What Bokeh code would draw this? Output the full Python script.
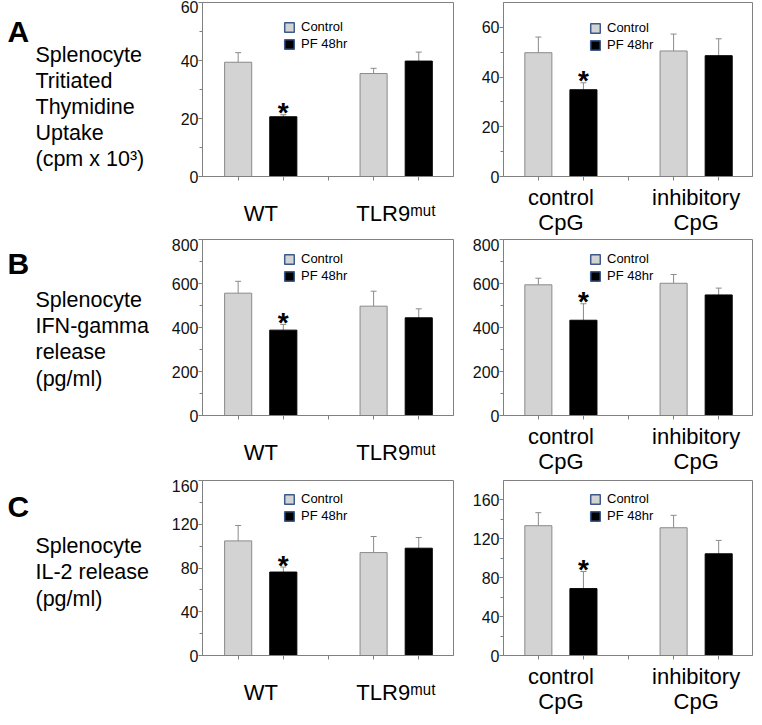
from bokeh.plotting import figure
from bokeh.layouts import column, row
from bokeh.models import (ColumnDataSource, Range1d, FixedTicker, Whisker, TeeHead,
                          Legend, LegendItem)
from bokeh.core.properties import value
from bokeh.embed import file_html
from bokeh.resources import INLINE

FONT = "Liberation Sans"

# ---------------- data ----------------
series_names = ["Control", "PF 48hr"]
left_groups = ["WT", "TLR9\u1d50\u1d58\u1d57"]          # TLR9 with superscript "mut"
right_groups = ["control\nCpG", "inhibitory\nCpG"]

panel_letters = ["A", "B", "C"]
row_titles = [
    ["Splenocyte", "Tritiated", "Thymidine", "Uptake", "(cpm x 10\u00b3)"],
    ["Splenocyte", "IFN-gamma", "release", "(pg/ml)"],
    ["Splenocyte", "IL-2 release", "(pg/ml)"],
]

# A: thymidine uptake
thy_left_control = [39.4, 35.5]
thy_left_control_sem = [3.3, 1.8]
thy_left_pf = [20.6, 39.8]
thy_left_pf_sem = [0.7, 3.1]
thy_right_control = [49.8, 50.5]
thy_right_control_sem = [6.3, 6.8]
thy_right_pf = [34.9, 48.6]
thy_right_pf_sem = [2.8, 6.8]

# B: IFN-gamma
ifn_left_control = [556, 497]
ifn_left_control_sem = [54, 68]
ifn_left_pf = [388, 444]
ifn_left_pf_sem = [26, 41]
ifn_right_control = [594, 601]
ifn_right_control_sem = [30, 40]
ifn_right_pf = [433, 548]
ifn_right_pf_sem = [75, 31]

# C: IL-2
il2_left_control = [104.8, 94.1]
il2_left_control_sem = [14.1, 14.7]
il2_left_pf = [76.3, 98.1]
il2_left_pf_sem = [4.6, 9.8]
il2_right_control = [133.5, 131.4]
il2_right_control_sem = [13.4, 12.8]
il2_right_pf = [68.8, 104.6]
il2_right_pf_sem = [17.6, 13.8]

# significance (asterisk) per group, PF bar
significant = [True, False]

# y axes
thy_left_ylim = 60
thy_right_ylim = 70
thy_ticks = [0, 20, 40, 60]
thy_minor = [10, 30, 50]
ifn_ylim = 800
ifn_ticks = [0, 200, 400, 600, 800]
ifn_minor = [100, 300, 500, 700]
il2_left_ylim = 160
il2_right_ylim = 180
il2_ticks = [0, 40, 80, 120, 160]
il2_minor = [20, 60, 100, 140]

# bar positions (control, PF) for each group
ctrl_x = [1, 4]
pf_x = [2, 5]
gap_x = [3]

CTRL_FILL = "#d3d3d3"
CTRL_LINE = "#8a8a8a"
PF_FILL = "#000000"
AXIS_GRAY = "#808080"
LEG_LINE = "#3b5b8c"
NAN = float("nan")


def panel(ctrl, ctrl_sem, pf, pf_sem, ylim, yticks, yminor, side, width, height,
          b_top, frame_h, b_left, b_right, legend_xy):
    if side == "left":
        xr = Range1d(0.21, 5.77)
    else:
        xr = Range1d(0.227, 5.75)
    p = figure(width=width, height=height, x_range=xr,
               y_range=Range1d(0, ylim), output_backend="svg", toolbar_location=None,
               min_border_top=b_top, min_border_left=b_left, min_border_right=b_right,
               min_border_bottom=height - b_top - frame_h)
    p.outline_line_color = AXIS_GRAY
    p.grid.visible = False

    # bars
    p.vbar(x=ctrl_x, top=ctrl, width=0.6, fill_color=CTRL_FILL, line_color=CTRL_LINE)
    p.vbar(x=pf_x, top=pf, width=0.6, fill_color=PF_FILL, line_color=PF_FILL)

    # error bars (upper only)
    xs = ctrl_x + pf_x
    means = ctrl + pf
    sems = ctrl_sem + pf_sem
    src = ColumnDataSource(dict(x=xs, lower=means,
                                upper=[m + s for m, s in zip(means, sems)]))
    w = Whisker(source=src, base="x", upper="upper", lower="lower",
                line_color=CTRL_LINE, line_width=1,
                upper_head=TeeHead(size=6, line_color=CTRL_LINE, line_width=1),
                lower_head=None)
    p.add_layout(w)

    # asterisks
    ax = [pf_x[i] for i in range(2) if significant[i]]
    ay = [pf[i] + pf_sem[i] for i in range(2) if significant[i]]
    p.text(x=ax, y=ay, text=["*"] * len(ax), text_font=value(FONT),
           text_font_style="bold", text_font_size="28px", text_align="center",
           text_baseline="alphabetic", y_offset=-2, text_color="black")

    # legend (swatches with their own outline colour)
    r1 = p.vbar(x=[NAN], top=[NAN], width=0.6, fill_color=CTRL_FILL,
                line_color=LEG_LINE, line_width=1.5)
    r2 = p.vbar(x=[NAN], top=[NAN], width=0.6, fill_color=PF_FILL,
                line_color=LEG_LINE, line_width=1.5)
    leg = Legend(items=[LegendItem(label=series_names[0], renderers=[r1]),
                        LegendItem(label=series_names[1], renderers=[r2])],
                 location=legend_xy, padding=0, margin=0, spacing=2,
                 glyph_width=12, glyph_height=12, label_standoff=6,
                 label_height=12, label_text_font=FONT, label_text_font_size="13px",
                 label_text_color="black",
                 border_line_alpha=0, background_fill_alpha=0)
    p.add_layout(leg)

    # y axis
    ya = p.yaxis[0]
    ya.ticker = FixedTicker(ticks=yticks, minor_ticks=yminor)
    ya.axis_line_color = AXIS_GRAY
    ya.major_tick_line_color = AXIS_GRAY
    ya.minor_tick_line_color = AXIS_GRAY
    ya.major_tick_in = 0
    ya.major_tick_out = 4
    ya.minor_tick_in = 0
    ya.minor_tick_out = 3
    ya.major_label_standoff = 0
    ya.major_label_text_font = FONT
    ya.major_label_text_font_size = "16px"
    ya.major_label_text_color = "#111111"

    # x axis: group names at group centres, small ticks at bars and gap
    centers = [(c + f) / 2 for c, f in zip(ctrl_x, pf_x)]
    names = left_groups if side == "left" else right_groups
    xa = p.xaxis[0]
    xa.ticker = FixedTicker(ticks=centers, minor_ticks=ctrl_x + pf_x + gap_x)
    xa.major_label_overrides = {c: n for c, n in zip(centers, names)}
    xa.axis_line_color = AXIS_GRAY
    xa.major_tick_line_color = None
    xa.major_tick_in = 0
    xa.major_tick_out = 0
    xa.minor_tick_line_color = AXIS_GRAY
    xa.minor_tick_in = 0
    xa.minor_tick_out = 4
    xa.major_label_text_font = FONT
    xa.major_label_text_font_size = "22px"
    xa.major_label_text_color = "black"
    xa.major_label_text_line_height = 1.02
    xa.major_label_standoff = 20 if side == "left" else 4
    return p


def text_panel(height, b_top, b_bottom, letter, letter_base, lines, first_base, step):
    # frame shares the row's top/bottom borders; y data == pixels from the figure top
    p = figure(width=149, height=height, x_range=Range1d(0, 149),
               y_range=Range1d(height - b_bottom, b_top), output_backend="svg",
               toolbar_location=None, min_border_left=0, min_border_right=0,
               min_border_top=b_top, min_border_bottom=b_bottom,
               x_axis_location=None, y_axis_location=None)
    p.outline_line_color = None
    p.grid.visible = False
    p.text(x=[7], y=[letter_base], text=[letter], text_font=value(FONT),
           text_font_style="bold", text_font_size="30px", text_baseline="alphabetic",
           text_color="black")
    p.text(x=[35] * len(lines), y=[first_base + i * step for i in range(len(lines))],
           text=lines, text_font=value(FONT), text_font_size="21.5px",
           text_baseline="alphabetic", text_color="black")
    return p


# row geometry: (height, top border, frame height)
ROW_A = (238, 2, 175)
ROW_B = (241, 1, 176)
ROW_C = (238, 1, 175)


def bottom(r):
    return r[0] - r[1] - r[2]


# Row A
tA = text_panel(ROW_A[0], ROW_A[1], bottom(ROW_A), panel_letters[0], 31.5,
                row_titles[0], 54.7, 26.3)
pA1 = panel(thy_left_control, thy_left_control_sem, thy_left_pf, thy_left_pf_sem,
            thy_left_ylim, thy_ticks, thy_minor, "left", 314, *ROW_A, 53, 10, (81, 125))
pA2 = panel(thy_right_control, thy_right_control_sem, thy_right_pf, thy_right_pf_sem,
            thy_right_ylim, thy_ticks, thy_minor, "right", 290, *ROW_A, 40, 1, (86, 124))
# Row B
tB = text_panel(ROW_B[0], ROW_B[1], bottom(ROW_B), panel_letters[1], 24.7,
                row_titles[1], 61, 26.4)
pB1 = panel(ifn_left_control, ifn_left_control_sem, ifn_left_pf, ifn_left_pf_sem,
            ifn_ylim, ifn_ticks, ifn_minor, "left", 314, *ROW_B, 53, 10, (81, 132))
pB2 = panel(ifn_right_control, ifn_right_control_sem, ifn_right_pf, ifn_right_pf_sem,
            ifn_ylim, ifn_ticks, ifn_minor, "right", 290, *ROW_B, 40, 1, (86, 132))
# Row C
tC = text_panel(ROW_C[0], ROW_C[1], bottom(ROW_C), panel_letters[2], 27,
                row_titles[2], 66.4, 26.4)
pC1 = panel(il2_left_control, il2_left_control_sem, il2_left_pf, il2_left_pf_sem,
            il2_left_ylim, il2_ticks, il2_minor, "left", 314, *ROW_C, 53, 10, (81, 132))
pC2 = panel(il2_right_control, il2_right_control_sem, il2_right_pf, il2_right_pf_sem,
            il2_right_ylim, il2_ticks, il2_minor, "right", 290, *ROW_C, 40, 1, (86, 132))

layout = column(row(tA, pA1, pA2, spacing=0), row(tB, pB1, pB2, spacing=0),
                row(tC, pC1, pC2, spacing=0), spacing=0)

open("out.html", "w").write(file_html(layout, INLINE))
